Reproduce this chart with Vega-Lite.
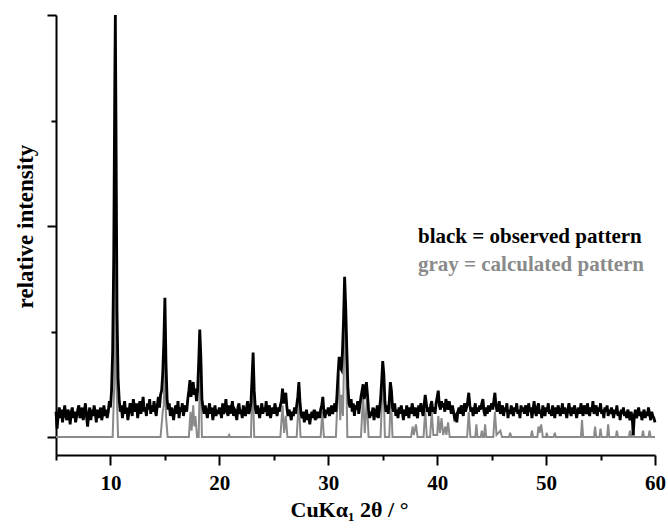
{
"$schema":"https://vega.github.io/schema/vega-lite/v6.json",
"width":599,"height":440,
"autosize":{"type":"none"},
"padding":{"left":56,"top":15,"right":13,"bottom":74},
"background":"white",
"config":{"view":{"stroke":null},"font":"Liberation Serif",
"axis":{"domainColor":"black","domainWidth":2,"tickColor":"black","tickWidth":2,"grid":false,"labelFont":"Liberation Serif","labelFontSize":21,"labelFontWeight":"bold","labelColor":"black","titleFont":"Liberation Serif","titleFontSize":22,"titleFontWeight":"bold","titleColor":"#000000"}},
"datasets":{
"calc":[
{"angle":5,"int":0},{"angle":10.2,"int":0},{"angle":10.35,"int":0.25},{"angle":10.45,"int":1.6},{"angle":10.55,"int":0.25},{"angle":10.7,"int":0},
{"angle":14.6,"int":0},{"angle":14.8,"int":0.12},{"angle":14.9,"int":0.15},{"angle":15.0,"int":0.5},{"angle":15.1,"int":0.1},{"angle":15.25,"int":0},
{"angle":17.2,"int":0},{"angle":17.35,"int":0.12},{"angle":17.45,"int":0.03},{"angle":17.6,"int":0.15},{"angle":17.7,"int":0.05},{"angle":17.8,"int":0.1},{"angle":17.95,"int":0},{"angle":18.1,"int":0},{"angle":18.25,"int":0.4},{"angle":18.4,"int":0},
{"angle":20.8,"int":0},{"angle":20.9,"int":0.01},{"angle":21.0,"int":0},
{"angle":22.9,"int":0},{"angle":23.05,"int":0.3},{"angle":23.2,"int":0},
{"angle":25.6,"int":0},{"angle":25.8,"int":0.15},{"angle":25.95,"int":0.02},{"angle":26.1,"int":0.1},{"angle":26.25,"int":0},
{"angle":27.1,"int":0},{"angle":27.3,"int":0.18},{"angle":27.45,"int":0},
{"angle":29.3,"int":0},{"angle":29.45,"int":0.12},{"angle":29.6,"int":0},
{"angle":30.7,"int":0},{"angle":30.95,"int":0.3},{"angle":31.1,"int":0.08},{"angle":31.2,"int":0.2},{"angle":31.35,"int":0.1},{"angle":31.55,"int":0.65},{"angle":31.75,"int":0},
{"angle":33.0,"int":0},{"angle":33.2,"int":0.2},{"angle":33.35,"int":0.02},{"angle":33.55,"int":0.18},{"angle":33.7,"int":0},
{"angle":34.8,"int":0},{"angle":34.95,"int":0.2},{"angle":35.05,"int":0.3},{"angle":35.2,"int":0},
{"angle":35.6,"int":0},{"angle":35.75,"int":0.2},{"angle":35.9,"int":0},
{"angle":37.6,"int":0},{"angle":37.75,"int":0.05},{"angle":37.85,"int":0.01},{"angle":38.05,"int":0.06},{"angle":38.2,"int":0},
{"angle":38.75,"int":0},{"angle":38.9,"int":0.13},{"angle":39.05,"int":0},
{"angle":39.35,"int":0},{"angle":39.5,"int":0.12},{"angle":39.65,"int":0.01},
{"angle":40.0,"int":0.01},{"angle":40.1,"int":0.1},{"angle":40.25,"int":0.02},{"angle":40.4,"int":0.09},{"angle":40.55,"int":0.01},{"angle":40.75,"int":0.05},{"angle":40.85,"int":0.01},{"angle":41.0,"int":0.07},{"angle":41.15,"int":0},
{"angle":42.75,"int":0},{"angle":42.9,"int":0.12},{"angle":43.05,"int":0},
{"angle":43.5,"int":0},{"angle":43.6,"int":0.06},{"angle":43.7,"int":0},{"angle":44.0,"int":0},{"angle":44.1,"int":0.03},{"angle":44.2,"int":0},{"angle":44.3,"int":0},{"angle":44.4,"int":0.06},{"angle":44.5,"int":0},
{"angle":45.15,"int":0},{"angle":45.3,"int":0.12},{"angle":45.45,"int":0.01},{"angle":45.8,"int":0.03},{"angle":45.95,"int":0},
{"angle":46.6,"int":0},{"angle":46.7,"int":0.02},{"angle":46.8,"int":0},
{"angle":48.6,"int":0},{"angle":48.7,"int":0.03},{"angle":48.8,"int":0},{"angle":49.2,"int":0},{"angle":49.3,"int":0.05},{"angle":49.4,"int":0.02},{"angle":49.55,"int":0.06},{"angle":49.7,"int":0},
{"angle":50.0,"int":0},{"angle":50.05,"int":0.02},{"angle":50.15,"int":0},{"angle":50.7,"int":0},{"angle":50.8,"int":0.02},{"angle":50.9,"int":0},
{"angle":53.2,"int":0},{"angle":53.3,"int":0.08},{"angle":53.4,"int":0},
{"angle":54.4,"int":0},{"angle":54.5,"int":0.05},{"angle":54.6,"int":0},{"angle":54.9,"int":0},{"angle":55.0,"int":0.04},{"angle":55.1,"int":0},{"angle":55.6,"int":0},{"angle":55.7,"int":0.06},{"angle":55.8,"int":0},{"angle":56.4,"int":0},{"angle":56.5,"int":0.03},{"angle":56.6,"int":0},
{"angle":57.6,"int":0},{"angle":57.7,"int":0.03},{"angle":57.8,"int":0},{"angle":57.9,"int":0},{"angle":58.0,"int":0.03},{"angle":58.1,"int":0},
{"angle":58.8,"int":0},{"angle":58.9,"int":0.03},{"angle":59.0,"int":0},{"angle":59.4,"int":0},{"angle":59.5,"int":0.03},{"angle":59.6,"int":0},{"angle":60,"int":0}
],
"obs":[
{"angle":5.0,"int":0.12},{"angle":5.1,"int":0.04},{"angle":5.2,"int":0.10},{"angle":5.3,"int":0.14},{"angle":5.4,"int":0.09},{"angle":5.5,"int":0.13},{"angle":5.6,"int":0.07},{"angle":5.7,"int":0.11},{"angle":5.8,"int":0.15},{"angle":5.9,"int":0.10},
{"angle":6.0,"int":0.08},{"angle":6.1,"int":0.13},{"angle":6.2,"int":0.11},{"angle":6.3,"int":0.06},{"angle":6.4,"int":0.12},{"angle":6.5,"int":0.14},{"angle":6.6,"int":0.09},{"angle":6.7,"int":0.12},{"angle":6.8,"int":0.07},{"angle":6.9,"int":0.10},
{"angle":7.0,"int":0.13},{"angle":7.1,"int":0.15},{"angle":7.2,"int":0.09},{"angle":7.3,"int":0.11},{"angle":7.4,"int":0.14},{"angle":7.5,"int":0.08},{"angle":7.6,"int":0.12},{"angle":7.7,"int":0.16},{"angle":7.8,"int":0.10},{"angle":7.9,"int":0.05},
{"angle":8.0,"int":0.11},{"angle":8.1,"int":0.14},{"angle":8.2,"int":0.08},{"angle":8.3,"int":0.13},{"angle":8.4,"int":0.10},{"angle":8.5,"int":0.15},{"angle":8.6,"int":0.12},{"angle":8.7,"int":0.07},{"angle":8.8,"int":0.13},{"angle":8.9,"int":0.09},
{"angle":9.0,"int":0.12},{"angle":9.1,"int":0.14},{"angle":9.2,"int":0.08},{"angle":9.3,"int":0.11},{"angle":9.4,"int":0.15},{"angle":9.5,"int":0.10},{"angle":9.6,"int":0.13},{"angle":9.7,"int":0.09},{"angle":9.8,"int":0.12},{"angle":9.9,"int":0.17},
{"angle":10.0,"int":0.14},{"angle":10.1,"int":0.22},{"angle":10.2,"int":0.40},{"angle":10.3,"int":0.85},{"angle":10.4,"int":1.70},{"angle":10.45,"int":2.0},{"angle":10.5,"int":1.55},{"angle":10.6,"int":0.60},{"angle":10.7,"int":0.28},{"angle":10.8,"int":0.18},{"angle":10.9,"int":0.12},
{"angle":11.0,"int":0.15},{"angle":11.1,"int":0.09},{"angle":11.2,"int":0.13},{"angle":11.3,"int":0.17},{"angle":11.4,"int":0.11},{"angle":11.5,"int":0.14},{"angle":11.6,"int":0.08},{"angle":11.7,"int":0.12},{"angle":11.8,"int":0.16},{"angle":11.9,"int":0.13},
{"angle":12.0,"int":0.10},{"angle":12.1,"int":0.18},{"angle":12.2,"int":0.14},{"angle":12.3,"int":0.12},{"angle":12.4,"int":0.16},{"angle":12.5,"int":0.09},{"angle":12.6,"int":0.13},{"angle":12.7,"int":0.17},{"angle":12.8,"int":0.11},{"angle":12.9,"int":0.15},
{"angle":13.0,"int":0.19},{"angle":13.1,"int":0.12},{"angle":13.2,"int":0.14},{"angle":13.3,"int":0.10},{"angle":13.4,"int":0.16},{"angle":13.5,"int":0.13},{"angle":13.6,"int":0.18},{"angle":13.7,"int":0.11},{"angle":13.8,"int":0.15},{"angle":13.9,"int":0.12},
{"angle":14.0,"int":0.17},{"angle":14.1,"int":0.13},{"angle":14.2,"int":0.10},{"angle":14.3,"int":0.15},{"angle":14.4,"int":0.19},{"angle":14.5,"int":0.14},{"angle":14.6,"int":0.20},{"angle":14.7,"int":0.22},{"angle":14.8,"int":0.30},{"angle":14.9,"int":0.45},
{"angle":15.0,"int":0.66},{"angle":15.1,"int":0.35},{"angle":15.2,"int":0.18},{"angle":15.3,"int":0.13},{"angle":15.4,"int":0.16},{"angle":15.5,"int":0.10},{"angle":15.6,"int":0.14},{"angle":15.7,"int":0.12},{"angle":15.8,"int":0.08},{"angle":15.9,"int":0.13},
{"angle":16.0,"int":0.15},{"angle":16.1,"int":0.11},{"angle":16.2,"int":0.17},{"angle":16.3,"int":0.09},{"angle":16.4,"int":0.14},{"angle":16.5,"int":0.12},{"angle":16.6,"int":0.16},{"angle":16.7,"int":0.10},{"angle":16.8,"int":0.13},{"angle":16.9,"int":0.15},
{"angle":17.0,"int":0.12},{"angle":17.1,"int":0.18},{"angle":17.2,"int":0.22},{"angle":17.3,"int":0.27},{"angle":17.4,"int":0.19},{"angle":17.5,"int":0.24},{"angle":17.6,"int":0.26},{"angle":17.7,"int":0.20},{"angle":17.8,"int":0.23},{"angle":17.9,"int":0.17},
{"angle":18.0,"int":0.22},{"angle":18.1,"int":0.35},{"angle":18.2,"int":0.51},{"angle":18.3,"int":0.38},{"angle":18.4,"int":0.18},{"angle":18.5,"int":0.14},{"angle":18.6,"int":0.11},{"angle":18.7,"int":0.15},{"angle":18.8,"int":0.12},{"angle":18.9,"int":0.09},
{"angle":19.0,"int":0.13},{"angle":19.1,"int":0.16},{"angle":19.2,"int":0.11},{"angle":19.3,"int":0.14},{"angle":19.4,"int":0.08},{"angle":19.5,"int":0.12},{"angle":19.6,"int":0.15},{"angle":19.7,"int":0.10},{"angle":19.8,"int":0.13},{"angle":19.9,"int":0.11},
{"angle":20.0,"int":0.14},{"angle":20.1,"int":0.12},{"angle":20.2,"int":0.09},{"angle":20.3,"int":0.16},{"angle":20.4,"int":0.11},{"angle":20.5,"int":0.13},{"angle":20.6,"int":0.18},{"angle":20.7,"int":0.12},{"angle":20.8,"int":0.10},{"angle":20.9,"int":0.15},
{"angle":21.0,"int":0.11},{"angle":21.1,"int":0.14},{"angle":21.2,"int":0.17},{"angle":21.3,"int":0.10},{"angle":21.4,"int":0.13},{"angle":21.5,"int":0.12},{"angle":21.6,"int":0.08},{"angle":21.7,"int":0.14},{"angle":21.8,"int":0.16},{"angle":21.9,"int":0.11},
{"angle":22.0,"int":0.13},{"angle":22.1,"int":0.09},{"angle":22.2,"int":0.15},{"angle":22.3,"int":0.12},{"angle":22.4,"int":0.10},{"angle":22.5,"int":0.14},{"angle":22.6,"int":0.17},{"angle":22.7,"int":0.11},{"angle":22.8,"int":0.13},{"angle":22.9,"int":0.16},
{"angle":23.0,"int":0.28},{"angle":23.1,"int":0.40},{"angle":23.2,"int":0.22},{"angle":23.3,"int":0.14},{"angle":23.4,"int":0.11},{"angle":23.5,"int":0.15},{"angle":23.6,"int":0.12},{"angle":23.7,"int":0.09},{"angle":23.8,"int":0.13},{"angle":23.9,"int":0.16},
{"angle":24.0,"int":0.11},{"angle":24.1,"int":0.14},{"angle":24.2,"int":0.12},{"angle":24.3,"int":0.17},{"angle":24.4,"int":0.10},{"angle":24.5,"int":0.13},{"angle":24.6,"int":0.15},{"angle":24.7,"int":0.09},{"angle":24.8,"int":0.12},{"angle":24.9,"int":0.14},
{"angle":25.0,"int":0.11},{"angle":25.1,"int":0.16},{"angle":25.2,"int":0.13},{"angle":25.3,"int":0.10},{"angle":25.4,"int":0.14},{"angle":25.5,"int":0.12},{"angle":25.6,"int":0.15},{"angle":25.7,"int":0.17},{"angle":25.8,"int":0.23},{"angle":25.9,"int":0.16},
{"angle":26.0,"int":0.18},{"angle":26.1,"int":0.21},{"angle":26.2,"int":0.14},{"angle":26.3,"int":0.10},{"angle":26.4,"int":0.13},{"angle":26.5,"int":0.11},{"angle":26.6,"int":0.08},{"angle":26.7,"int":0.12},{"angle":26.8,"int":0.10},{"angle":26.9,"int":0.14},
{"angle":27.0,"int":0.11},{"angle":27.1,"int":0.15},{"angle":27.2,"int":0.19},{"angle":27.3,"int":0.26},{"angle":27.4,"int":0.17},{"angle":27.5,"int":0.11},{"angle":27.6,"int":0.09},{"angle":27.7,"int":0.12},{"angle":27.8,"int":0.07},{"angle":27.9,"int":0.10},
{"angle":28.0,"int":0.13},{"angle":28.1,"int":0.08},{"angle":28.2,"int":0.11},{"angle":28.3,"int":0.06},{"angle":28.4,"int":0.10},{"angle":28.5,"int":0.12},{"angle":28.6,"int":0.09},{"angle":28.7,"int":0.13},{"angle":28.8,"int":0.08},{"angle":28.9,"int":0.11},
{"angle":29.0,"int":0.10},{"angle":29.1,"int":0.12},{"angle":29.2,"int":0.09},{"angle":29.3,"int":0.13},{"angle":29.4,"int":0.15},{"angle":29.5,"int":0.19},{"angle":29.6,"int":0.12},{"angle":29.7,"int":0.09},{"angle":29.8,"int":0.13},{"angle":29.9,"int":0.11},
{"angle":30.0,"int":0.14},{"angle":30.1,"int":0.10},{"angle":30.2,"int":0.12},{"angle":30.3,"int":0.15},{"angle":30.4,"int":0.11},{"angle":30.5,"int":0.13},{"angle":30.6,"int":0.16},{"angle":30.7,"int":0.12},{"angle":30.8,"int":0.20},{"angle":30.9,"int":0.30},
{"angle":31.0,"int":0.38},{"angle":31.1,"int":0.33},{"angle":31.2,"int":0.32},{"angle":31.3,"int":0.40},{"angle":31.4,"int":0.55},{"angle":31.5,"int":0.76},{"angle":31.6,"int":0.62},{"angle":31.7,"int":0.42},{"angle":31.8,"int":0.24},{"angle":31.9,"int":0.16},
{"angle":32.0,"int":0.14},{"angle":32.1,"int":0.18},{"angle":32.2,"int":0.12},{"angle":32.3,"int":0.16},{"angle":32.4,"int":0.10},{"angle":32.5,"int":0.15},{"angle":32.6,"int":0.13},{"angle":32.7,"int":0.17},{"angle":32.8,"int":0.11},{"angle":32.9,"int":0.15},
{"angle":33.0,"int":0.19},{"angle":33.1,"int":0.22},{"angle":33.2,"int":0.25},{"angle":33.3,"int":0.18},{"angle":33.4,"int":0.21},{"angle":33.5,"int":0.26},{"angle":33.6,"int":0.20},{"angle":33.7,"int":0.13},{"angle":33.8,"int":0.09},{"angle":33.9,"int":0.12},
{"angle":34.0,"int":0.10},{"angle":34.1,"int":0.14},{"angle":34.2,"int":0.08},{"angle":34.3,"int":0.12},{"angle":34.4,"int":0.11},{"angle":34.5,"int":0.15},{"angle":34.6,"int":0.09},{"angle":34.7,"int":0.13},{"angle":34.8,"int":0.18},{"angle":34.9,"int":0.26},
{"angle":35.0,"int":0.36},{"angle":35.1,"int":0.30},{"angle":35.2,"int":0.17},{"angle":35.3,"int":0.12},{"angle":35.4,"int":0.15},{"angle":35.5,"int":0.11},{"angle":35.6,"int":0.17},{"angle":35.7,"int":0.26},{"angle":35.8,"int":0.22},{"angle":35.9,"int":0.14},
{"angle":36.0,"int":0.12},{"angle":36.1,"int":0.16},{"angle":36.2,"int":0.10},{"angle":36.3,"int":0.13},{"angle":36.4,"int":0.09},{"angle":36.5,"int":0.14},{"angle":36.6,"int":0.11},{"angle":36.7,"int":0.15},{"angle":36.8,"int":0.12},{"angle":36.9,"int":0.08},
{"angle":37.0,"int":0.13},{"angle":37.1,"int":0.10},{"angle":37.2,"int":0.15},{"angle":37.3,"int":0.12},{"angle":37.4,"int":0.09},{"angle":37.5,"int":0.14},{"angle":37.6,"int":0.11},{"angle":37.7,"int":0.16},{"angle":37.8,"int":0.13},{"angle":37.9,"int":0.10},
{"angle":38.0,"int":0.14},{"angle":38.1,"int":0.11},{"angle":38.2,"int":0.09},{"angle":38.3,"int":0.15},{"angle":38.4,"int":0.12},{"angle":38.5,"int":0.16},{"angle":38.6,"int":0.13},{"angle":38.7,"int":0.10},{"angle":38.8,"int":0.15},{"angle":38.9,"int":0.20},
{"angle":39.0,"int":0.16},{"angle":39.1,"int":0.12},{"angle":39.2,"int":0.14},{"angle":39.3,"int":0.10},{"angle":39.4,"int":0.15},{"angle":39.5,"int":0.17},{"angle":39.6,"int":0.12},{"angle":39.7,"int":0.14},{"angle":39.8,"int":0.11},{"angle":39.9,"int":0.16},
{"angle":40.0,"int":0.19},{"angle":40.1,"int":0.22},{"angle":40.2,"int":0.15},{"angle":40.3,"int":0.13},{"angle":40.4,"int":0.17},{"angle":40.5,"int":0.14},{"angle":40.6,"int":0.16},{"angle":40.7,"int":0.12},{"angle":40.8,"int":0.18},{"angle":40.9,"int":0.15},
{"angle":41.0,"int":0.13},{"angle":41.1,"int":0.17},{"angle":41.2,"int":0.14},{"angle":41.3,"int":0.11},{"angle":41.4,"int":0.15},{"angle":41.5,"int":0.12},{"angle":41.6,"int":0.09},{"angle":41.7,"int":0.10},{"angle":41.8,"int":0.07},{"angle":41.9,"int":0.12},
{"angle":42.0,"int":0.14},{"angle":42.1,"int":0.11},{"angle":42.2,"int":0.15},{"angle":42.3,"int":0.13},{"angle":42.4,"int":0.10},{"angle":42.5,"int":0.16},{"angle":42.6,"int":0.12},{"angle":42.7,"int":0.14},{"angle":42.8,"int":0.17},{"angle":42.9,"int":0.21},
{"angle":43.0,"int":0.15},{"angle":43.1,"int":0.12},{"angle":43.2,"int":0.14},{"angle":43.3,"int":0.10},{"angle":43.4,"int":0.13},{"angle":43.5,"int":0.16},{"angle":43.6,"int":0.11},{"angle":43.7,"int":0.14},{"angle":43.8,"int":0.12},{"angle":43.9,"int":0.15},
{"angle":44.0,"int":0.13},{"angle":44.1,"int":0.16},{"angle":44.2,"int":0.18},{"angle":44.3,"int":0.12},{"angle":44.4,"int":0.10},{"angle":44.5,"int":0.14},{"angle":44.6,"int":0.11},{"angle":44.7,"int":0.15},{"angle":44.8,"int":0.12},{"angle":44.9,"int":0.14},
{"angle":45.0,"int":0.16},{"angle":45.1,"int":0.13},{"angle":45.2,"int":0.17},{"angle":45.3,"int":0.21},{"angle":45.4,"int":0.15},{"angle":45.5,"int":0.12},{"angle":45.6,"int":0.14},{"angle":45.7,"int":0.17},{"angle":45.8,"int":0.11},{"angle":45.9,"int":0.13},
{"angle":46.0,"int":0.15},{"angle":46.1,"int":0.10},{"angle":46.2,"int":0.14},{"angle":46.3,"int":0.12},{"angle":46.4,"int":0.16},{"angle":46.5,"int":0.09},{"angle":46.6,"int":0.13},{"angle":46.7,"int":0.11},{"angle":46.8,"int":0.15},{"angle":46.9,"int":0.12},
{"angle":47.0,"int":0.10},{"angle":47.1,"int":0.14},{"angle":47.2,"int":0.12},{"angle":47.3,"int":0.16},{"angle":47.4,"int":0.11},{"angle":47.5,"int":0.13},{"angle":47.6,"int":0.09},{"angle":47.7,"int":0.15},{"angle":47.8,"int":0.12},{"angle":47.9,"int":0.14},
{"angle":48.0,"int":0.11},{"angle":48.1,"int":0.15},{"angle":48.2,"int":0.13},{"angle":48.3,"int":0.10},{"angle":48.4,"int":0.16},{"angle":48.5,"int":0.12},{"angle":48.6,"int":0.14},{"angle":48.7,"int":0.09},{"angle":48.8,"int":0.13},{"angle":48.9,"int":0.17},
{"angle":49.0,"int":0.12},{"angle":49.1,"int":0.10},{"angle":49.2,"int":0.14},{"angle":49.3,"int":0.16},{"angle":49.4,"int":0.11},{"angle":49.5,"int":0.13},{"angle":49.6,"int":0.09},{"angle":49.7,"int":0.15},{"angle":49.8,"int":0.12},{"angle":49.9,"int":0.10},
{"angle":50.0,"int":0.14},{"angle":50.1,"int":0.12},{"angle":50.2,"int":0.16},{"angle":50.3,"int":0.11},{"angle":50.4,"int":0.13},{"angle":50.5,"int":0.10},{"angle":50.6,"int":0.15},{"angle":50.7,"int":0.12},{"angle":50.8,"int":0.09},{"angle":50.9,"int":0.14},
{"angle":51.0,"int":0.11},{"angle":51.1,"int":0.15},{"angle":51.2,"int":0.13},{"angle":51.3,"int":0.10},{"angle":51.4,"int":0.12},{"angle":51.5,"int":0.16},{"angle":51.6,"int":0.11},{"angle":51.7,"int":0.14},{"angle":51.8,"int":0.12},{"angle":51.9,"int":0.09},
{"angle":52.0,"int":0.13},{"angle":52.1,"int":0.16},{"angle":52.2,"int":0.12},{"angle":52.3,"int":0.10},{"angle":52.4,"int":0.14},{"angle":52.5,"int":0.11},{"angle":52.6,"int":0.15},{"angle":52.7,"int":0.13},{"angle":52.8,"int":0.09},{"angle":52.9,"int":0.12},
{"angle":53.0,"int":0.14},{"angle":53.1,"int":0.11},{"angle":53.2,"int":0.16},{"angle":53.3,"int":0.12},{"angle":53.4,"int":0.10},{"angle":53.5,"int":0.15},{"angle":53.6,"int":0.13},{"angle":53.7,"int":0.11},{"angle":53.8,"int":0.16},{"angle":53.9,"int":0.12},
{"angle":54.0,"int":0.10},{"angle":54.1,"int":0.14},{"angle":54.2,"int":0.12},{"angle":54.3,"int":0.17},{"angle":54.4,"int":0.11},{"angle":54.5,"int":0.13},{"angle":54.6,"int":0.15},{"angle":54.7,"int":0.10},{"angle":54.8,"int":0.14},{"angle":54.9,"int":0.12},
{"angle":55.0,"int":0.16},{"angle":55.1,"int":0.11},{"angle":55.2,"int":0.13},{"angle":55.3,"int":0.09},{"angle":55.4,"int":0.14},{"angle":55.5,"int":0.12},{"angle":55.6,"int":0.15},{"angle":55.7,"int":0.10},{"angle":55.8,"int":0.13},{"angle":55.9,"int":0.11},
{"angle":56.0,"int":0.14},{"angle":56.1,"int":0.12},{"angle":56.2,"int":0.09},{"angle":56.3,"int":0.13},{"angle":56.4,"int":0.11},{"angle":56.5,"int":0.15},{"angle":56.6,"int":0.10},{"angle":56.7,"int":0.12},{"angle":56.8,"int":0.08},{"angle":56.9,"int":0.13},
{"angle":57.0,"int":0.11},{"angle":57.1,"int":0.14},{"angle":57.2,"int":0.10},{"angle":57.3,"int":0.12},{"angle":57.4,"int":0.09},{"angle":57.5,"int":0.13},{"angle":57.6,"int":0.11},{"angle":57.7,"int":0.08},{"angle":57.8,"int":0.12},{"angle":57.9,"int":0.10},
{"angle":58.0,"int":0.01},{"angle":58.1,"int":0.10},{"angle":58.2,"int":0.13},{"angle":58.3,"int":0.09},{"angle":58.4,"int":0.11},{"angle":58.5,"int":0.14},{"angle":58.6,"int":0.10},{"angle":58.7,"int":0.12},{"angle":58.8,"int":0.08},{"angle":58.9,"int":0.11},
{"angle":59.0,"int":0.13},{"angle":59.1,"int":0.09},{"angle":59.2,"int":0.12},{"angle":59.3,"int":0.10},{"angle":59.4,"int":0.14},{"angle":59.5,"int":0.11},{"angle":59.6,"int":0.08},{"angle":59.7,"int":0.12},{"angle":59.8,"int":0.10},{"angle":59.9,"int":0.09},
{"angle":60.0,"int":0.07}
]},
"layer":[
{"data":{"name":"calc"},
 "mark":{"type":"line","strokeWidth":2},
 "encoding":{
  "x":{"field":"angle","type":"quantitative","scale":{"domain":[5,60],"nice":false,"zero":false},
   "axis":{"values":[5,10,15,20,25,30,35,40,45,50,55,60],"labelExpr":"datum.value % 10 === 0 ? datum.label : ''","tickSize":{"condition":{"test":"datum.value % 10 === 0","value":10},"value":5},"labelPadding":7,"labelFlush":false,"labelOverlap":false,"title":"CuKα₁ 2θ / °","titleY":61,"titleBaseline":"alphabetic","titleX":293}},
  "y":{"field":"int","type":"quantitative","scale":{"domain":[-0.085,2],"nice":false,"zero":false},
   "axis":{"values":[0,0.5,1,1.5,2],"labels":false,"tickSize":{"condition":{"test":"datum.value % 1 === 0","value":9},"value":5},"title":"relative intensity","titleFontSize":23,"titleX":-24,"titleY":211,"titleAngle":-90,"titleBaseline":"alphabetic","titleAlign":"center"}},
  "color":{"datum":"gray = calculated pattern","type":"nominal",
   "scale":{"domain":["black = observed pattern","gray = calculated pattern"],"range":["#000000","#8a8a8a"]},
   "legend":{"orient":"none","legendX":341,"legendY":211,"title":null,"symbolSize":0,"symbolStrokeWidth":0,"symbolOpacity":0,"labelFont":"Liberation Serif","labelFontSize":21,"labelFontWeight":"bold","labelOffset":0,"rowPadding":6,"labelLimit":400,"padding":0,
    "encode":{"labels":{"update":{"fill":{"scale":"color","field":"value"}}}}}}
 }},
{"data":{"name":"obs"},
 "mark":{"type":"line","strokeWidth":2.8},
 "encoding":{
  "x":{"field":"angle","type":"quantitative"},
  "y":{"field":"int","type":"quantitative"},
  "color":{"datum":"black = observed pattern","type":"nominal"}
 }}
]
}
